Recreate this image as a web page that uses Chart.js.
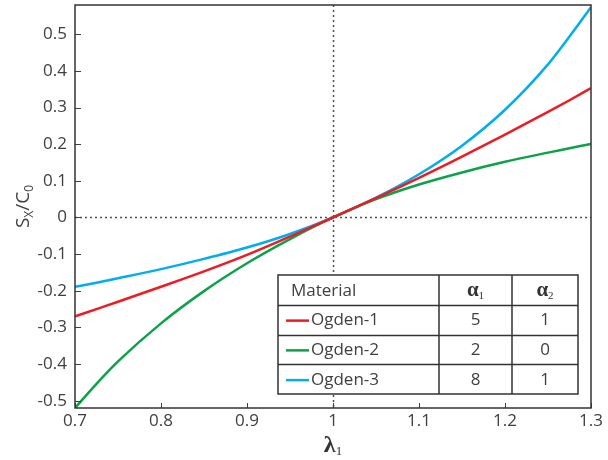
<!DOCTYPE html>
<html>
<head>
<meta charset="utf-8">
<script src="https://cdn.jsdelivr.net/npm/chart.js@4/dist/chart.umd.min.js"></script>
<style>
  html, body { margin: 0; padding: 0; background: #fff; }
  #wrap { width: 608px; height: 460px; }
</style>
</head>
<body>
<div id="wrap"><canvas id="c" width="608" height="460"></canvas></div>
<script>
// Stretch ratio λ1 and normalised stress Sx/C0 for three Ogden materials
const stretch = [0.700, 0.725, 0.75, 0.80, 0.85, 0.90, 0.95, 1.00, 1.05, 1.10, 1.15, 1.20, 1.25, 1.275, 1.30];
const ogden1 = [-0.270, -0.250, -0.230, -0.189, -0.147, -0.102, -0.052, 0, 0.053, 0.108, 0.166, 0.226, 0.288, 0.320, 0.353];
const ogden2 = [-0.520, -0.454, -0.393, -0.289, -0.201, -0.125, -0.059, 0, 0.050, 0.090, 0.123, 0.152, 0.177, 0.189, 0.201];
const ogden3 = [-0.189, -0.178, -0.166, -0.141, -0.113, -0.082, -0.045, 0, 0.054, 0.118, 0.196, 0.294, 0.418, 0.494, 0.574];

// Table contents: material name and its exponents
const materials = ['Ogden-1', 'Ogden-2', 'Ogden-3'];
const alpha1 = [5, 2, 8];
const alpha2 = [1, 0, 1];
const colors = ['#ED1C24', '#0DA24A', '#00AEEF'];

// Axis ticks
const xTicks = [0.7, 0.8, 0.9, 1, 1.1, 1.2, 1.3];
const yTicks = [-0.5, -0.4, -0.3, -0.2, -0.1, 0, 0.1, 0.2, 0.3, 0.4, 0.5];

const INK = '#404040';
const FONT = '"Open Sans", "Noto Sans", sans-serif';
const SERIF = '"Liberation Serif", "DejaVu Serif", serif';

const toPoints = ys => stretch.map((x, i) => ({ x: x, y: ys[i] }));
const seriesList = [ogden1, ogden2, ogden3];

const fmt = v => {
  const r = Math.round(v * 10) / 10;
  return r === 0 ? '0' : String(r);
};

// Reference lines, inward ticks, frame, axis titles and the material table
const decor = {
  id: 'decor',
  beforeDatasetsDraw(chart) {
    const { ctx, chartArea: a, scales: { x, y } } = chart;
    ctx.save();
    ctx.strokeStyle = '#505050';
    ctx.lineWidth = 1.5;
    ctx.setLineDash([2, 3]);
    const x1 = Math.round(x.getPixelForValue(1)) + 0.5;
    const y0 = Math.round(y.getPixelForValue(0)) + 0.5;
    ctx.beginPath();
    ctx.moveTo(x1, a.top); ctx.lineTo(x1, a.bottom);
    ctx.moveTo(a.left, y0); ctx.lineTo(a.right, y0);
    ctx.stroke();
    ctx.restore();
  },
  afterDraw(chart) {
    const { ctx, chartArea: a, scales: { x, y } } = chart;
    ctx.save();
    // inward tick marks
    ctx.strokeStyle = INK;
    ctx.lineWidth = 1;
    ctx.beginPath();
    yTicks.forEach(v => {
      const py = Math.round(y.getPixelForValue(v)) + 0.5;
      ctx.moveTo(a.left, py); ctx.lineTo(a.left + 6, py);
    });
    xTicks.forEach(v => {
      const px = Math.round(x.getPixelForValue(v)) + 0.5;
      ctx.moveTo(px, a.bottom); ctx.lineTo(px, a.bottom - 5);
    });
    ctx.stroke();
    // frame
    ctx.strokeStyle = '#333';
    ctx.lineWidth = 1.5;
    ctx.strokeRect(a.left, a.top, a.right - a.left, a.bottom - a.top);

    // x-axis title: λ1
    ctx.fillStyle = '#333';
    ctx.textBaseline = 'alphabetic';
    const cx = (a.left + a.right) / 2;
    ctx.font = 'bold 24px ' + SERIF;
    const wl = ctx.measureText('λ').width;
    ctx.font = '13px ' + SERIF;
    const ws = ctx.measureText('1').width;
    const sx = cx - (wl + ws) / 2;
    ctx.font = 'bold 24px ' + SERIF;
    ctx.textAlign = 'left';
    ctx.fillText('λ', sx, 452);
    ctx.font = '13px ' + SERIF;
    ctx.fillText('1', sx + wl, 455);

    // y-axis title: Sx/C0
    ctx.save();
    ctx.translate(29, (a.top + a.bottom) / 2);
    ctx.rotate(-Math.PI / 2);
    const parts = [['S', 19, 0], ['X', 12, 4], ['/C', 19, 0], ['0', 12, 4]];
    let total = 0;
    parts.forEach(p => { ctx.font = p[1] + 'px ' + FONT; total += ctx.measureText(p[0]).width; });
    let px = -total / 2;
    ctx.fillStyle = INK;
    parts.forEach(p => {
      ctx.font = p[1] + 'px ' + FONT;
      ctx.fillText(p[0], px, p[2]);
      px += ctx.measureText(p[0]).width;
    });
    ctx.restore();

    // material table
    const tL = 278, tR = 578, c1 = 439, c2 = 512, tT = 275, rowH = 29.75;
    const tB = tT + rowH * 4;
    ctx.fillStyle = '#fff';
    ctx.fillRect(tL, tT, tR - tL, tB - tT);
    ctx.strokeStyle = '#333';
    ctx.lineWidth = 1.5;
    ctx.strokeRect(tL, tT, tR - tL, tB - tT);
    ctx.beginPath();
    for (let r = 1; r < 4; r++) {
      const ry = Math.round(tT + rowH * r) + 0.5;
      ctx.moveTo(tL, ry); ctx.lineTo(tR, ry);
    }
    ctx.moveTo(c1, tT); ctx.lineTo(c1, tB);
    ctx.moveTo(c2, tT); ctx.lineTo(c2, tB);
    ctx.stroke();

    const mid = r => tT + rowH * r + rowH / 2 + 1;
    ctx.textBaseline = 'middle';
    ctx.fillStyle = INK;
    ctx.font = '17px ' + FONT;
    ctx.textAlign = 'left';
    ctx.fillText('Material', 291, mid(0));

    // α headers with subscripts
    const greek = (label, sub, centre) => {
      ctx.font = 'bold 21px ' + SERIF;
      const wa = ctx.measureText(label).width;
      ctx.font = '11px ' + SERIF;
      const wsb = ctx.measureText(sub).width;
      const start = centre - (wa + wsb) / 2;
      ctx.textAlign = 'left';
      ctx.textBaseline = 'alphabetic';
      ctx.fillStyle = '#333';
      ctx.font = 'bold 21px ' + SERIF;
      ctx.fillText(label, start, mid(0) + 5);
      ctx.font = '11px ' + SERIF;
      ctx.fillText(sub, start + wa, mid(0) + 8);
    };
    greek('α', '1', (c1 + c2) / 2);
    greek('α', '2', (c2 + tR) / 2);

    ctx.textBaseline = 'middle';
    materials.forEach((m, i) => {
      const ry = mid(i + 1);
      ctx.strokeStyle = colors[i];
      ctx.lineWidth = 2.5;
      ctx.beginPath();
      ctx.moveTo(286, ry); ctx.lineTo(309, ry);
      ctx.stroke();
      ctx.fillStyle = INK;
      ctx.font = '17px ' + FONT;
      ctx.textAlign = 'left';
      ctx.fillText(m, 311, ry);
      ctx.textAlign = 'center';
      ctx.fillText(String(alpha1[i]), (c1 + c2) / 2, ry);
      ctx.fillText(String(alpha2[i]), (c2 + tR) / 2, ry);
    });
    ctx.restore();
  }
};

new Chart(document.getElementById('c'), {
  type: 'line',
  data: {
    datasets: seriesList.map((s, i) => ({
      label: materials[i],
      data: toPoints(s),
      borderColor: colors[i],
      borderWidth: 2.5,
      pointRadius: 0,
      fill: false,
      cubicInterpolationMode: 'monotone'
    }))
  },
  options: {
    responsive: false,
    animation: false,
    devicePixelRatio: 1,
    layout: { padding: { left: 0, right: 17, top: 5, bottom: 0 } },
    plugins: { legend: { display: false }, tooltip: { enabled: false } },
    scales: {
      x: {
        type: 'linear',
        min: 0.7, max: 1.3,
        grid: { display: false, drawTicks: false },
        border: { display: false },
        afterBuildTicks: s => { s.ticks = xTicks.map(v => ({ value: v })); },
        afterFit: s => { s.height = 52; s.paddingLeft = 0; s.paddingRight = 0; },
        ticks: {
          color: INK, padding: 3, maxRotation: 0, autoSkip: false,
          font: { family: FONT, size: 17 },
          callback: v => fmt(v)
        }
      },
      y: {
        type: 'linear',
        min: -0.52, max: 0.58,
        grid: { display: false, drawTicks: false },
        border: { display: false },
        afterBuildTicks: s => { s.ticks = yTicks.map(v => ({ value: v })); },
        afterFit: s => { s.width = 75; s.paddingTop = 0; s.paddingBottom = 0; },
        ticks: {
          color: INK, padding: 8, autoSkip: false,
          font: { family: FONT, size: 17 },
          callback: v => fmt(v)
        }
      }
    }
  },
  plugins: [decor]
});
</script>
</body>
</html>
